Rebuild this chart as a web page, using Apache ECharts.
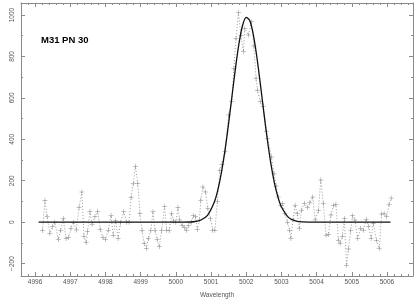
<!DOCTYPE html>
<html><head><meta charset="utf-8">
<script src="https://cdn.jsdelivr.net/npm/echarts@6/dist/echarts.min.js"></script>
<style>html,body{margin:0;padding:0;background:#fff}#c{width:415px;height:300px}</style>
</head><body><div id="c"></div>
<script>
// Observed spectrum (wavelength, flux)
const obsWave = [4996.21,4996.28,4996.34,4996.42,4996.49,4996.56,4996.66,4996.73,4996.80,4996.88,4996.95,4997.02,4997.09,4997.17,4997.25,4997.33,4997.39,4997.45,4997.49,4997.56,4997.62,4997.70,4997.78,4997.85,4997.93,4998.00,4998.08,4998.16,4998.22,4998.29,4998.36,4998.43,4998.52,4998.60,4998.67,4998.73,4998.79,4998.85,4998.92,4998.98,4999.04,4999.10,4999.16,4999.22,4999.29,4999.35,4999.41,4999.47,4999.53,4999.60,4999.68,4999.74,4999.81,4999.88,4999.94,5000.00,5000.06,5000.11,5000.18,5000.25,5000.30,5000.36,5000.44,5000.50,5000.56,5000.61,5000.67,5000.71,5000.77,5000.84,5000.91,5000.98,5001.05,5001.11,5001.18,5001.25,5001.31,5001.40,5001.50,5001.59,5001.65,5001.71,5001.78,5001.85,5001.92,5001.96,5002.06,5002.15,5002.22,5002.28,5002.32,5002.40,5002.48,5002.57,5002.61,5002.72,5002.79,5002.85,5002.91,5002.98,5003.04,5003.10,5003.17,5003.23,5003.27,5003.33,5003.39,5003.45,5003.51,5003.57,5003.65,5003.74,5003.81,5003.89,5003.96,5004.05,5004.12,5004.19,5004.27,5004.34,5004.41,5004.48,5004.55,5004.62,5004.67,5004.73,5004.79,5004.85,5004.91,5004.97,5005.02,5005.09,5005.17,5005.25,5005.33,5005.41,5005.48,5005.55,5005.61,5005.70,5005.78,5005.85,5005.92,5005.99,5006.06,5006.12];
const obsFlux = [-40,106,29,-55,-22,0,-84,-40,18,-79,-74,-30,0,-38,71,146,-68,-100,-45,53,-10,26,53,-35,-74,-84,-39,32,-63,8,-79,-3,50,0,0,120,187,270,187,40,-40,-103,-127,-79,-40,50,-40,-84,-119,-40,77,-39,-42,42,6,0,71,10,-16,-26,-39,-16,0,32,26,-35,10,106,170,146,66,18,-39,-39,100,251,280,340,517,581,740,887,1013,900,823,936,903,967,850,694,637,581,560,436,404,315,235,174,122,82,90,42,0,-39,-79,10,82,40,-31,58,90,71,95,122,10,55,203,90,-63,-60,34,82,87,-87,-103,-68,18,-208,-130,-40,31,10,-79,-30,-39,14,-20,-79,-6,-87,-127,39,40,26,87,117];
// Fitted Gaussian profile
const fitWave = [4996.1,5000.0,5000.5,5000.7,5000.9,5001.1,5001.2,5001.3,5001.4,5001.5,5001.6,5001.7,5001.8,5001.9,5002.0,5002.1,5002.2,5002.3,5002.4,5002.5,5002.6,5002.7,5002.8,5002.9,5003.0,5003.2,5003.4,5003.6,5004.0,5006.1];
const fitFlux = [0,0,2,9,33,100,160,244,350,477,614,750,868,952,989,973,907,801,670,531,399,284,191,122,74,23,6,1,0,0];
// Axis ticks
const xMajor = [4996,4997,4998,4999,5000,5001,5002,5003,5004,5005,5006];
const xMinor = [4995.8,4996.2,4996.4,4996.6,4996.8,4997.2,4997.4,4997.6,4997.8,4998.2,4998.4,4998.6,4998.8,4999.2,4999.4,4999.6,4999.8,5000.2,5000.4,5000.6,5000.8,5001.2,5001.4,5001.6,5001.8,5002.2,5002.4,5002.6,5002.8,5003.2,5003.4,5003.6,5003.8,5004.2,5004.4,5004.6,5004.8,5005.2,5005.4,5005.6,5005.8,5006.2,5006.4,5006.6];
const yMajor = [-200,0,200,400,600,800,1000];
const yMinor = [-100,100,300,500,700,900];
const titleText = 'M31 PN 30';
const xName = 'Wavelength';
const yName = 'Flux';

const XMIN = 4995.6, XMAX = 5006.74, YMIN = -260, YMAX = 1058;
const axisCol = '#8a8a8a';
const font = 'Liberation Sans, Arial, sans-serif';

function xAx(pos, ticks, len, labels, line) {
  return {
    type: 'value', position: pos, min: XMIN, max: XMAX,
    splitLine: {show: false},
    axisLine: {show: line, onZero: false, lineStyle: {color: axisCol, width: 1}},
    axisTick: {show: true, inside: true, length: len, customValues: ticks, lineStyle: {color: axisCol, width: 1}},
    axisLabel: labels ? {show: true, customValues: ticks, fontSize: 6.5, color: '#555', margin: 3, fontFamily: font, formatter: v => String(v)} : {show: false},
    name: labels ? xName : '', nameLocation: 'middle', nameGap: 16,
    nameTextStyle: {fontSize: 6.5, color: '#555', fontFamily: font}
  };
}
function yAx(pos, ticks, len, labels, line) {
  return {
    type: 'value', position: pos, min: YMIN, max: YMAX,
    splitLine: {show: false},
    axisLine: {show: line, onZero: false, lineStyle: {color: axisCol, width: 1}},
    axisTick: {show: true, inside: true, length: len, customValues: ticks, lineStyle: {color: axisCol, width: 1}},
    axisLabel: labels ? {show: true, customValues: ticks, fontSize: 6.5, color: '#555', margin: 5, rotate: 90, fontFamily: font, formatter: v => String(v).replace('-', '\u2212')} : {show: false},
    name: labels ? yName : '', nameLocation: 'middle', nameGap: 15, nameRotate: 90,
    nameTextStyle: {fontSize: 6.5, color: '#555', fontFamily: font}
  };
}

const chart = echarts.init(document.getElementById('c'), null, {renderer: 'canvas'});
chart.setOption({
  animation: false,
  backgroundColor: '#fff',
  title: {text: titleText, left: 41, top: 35, padding: 0, textStyle: {fontSize: 9.5, fontWeight: 'bold', color: '#000', fontFamily: font}},
  grid: {left: 21, right: 2, top: 3, bottom: 24, containLabel: false, outerBoundsMode: 'none'},
  xAxis: [
    xAx('bottom', xMajor, 4, true, true),
    xAx('bottom', xMinor, 2, false, false),
    xAx('top', xMajor, 4, false, true),
    xAx('top', xMinor, 2, false, false)
  ],
  yAxis: [
    yAx('left', yMajor, 4, true, true),
    yAx('left', yMinor, 2, false, false),
    yAx('right', yMajor, 4, false, true),
    yAx('right', yMinor, 2, false, false)
  ],
  series: [
    {
      type: 'line', xAxisIndex: 0, yAxisIndex: 0,
      data: obsWave.map((w, i) => [w, obsFlux[i]]),
      lineStyle: {color: '#9a9a9a', width: 1, type: [1, 2]},
      symbol: 'path://M0,4.5H10V5.5H0ZM4.5,0H5.5V10H4.5Z', symbolSize: 5,
      itemStyle: {color: '#8a8a8a'},
      z: 2
    },
    {
      type: 'line', xAxisIndex: 0, yAxisIndex: 0, smooth: 0.3,
      data: fitWave.map((w, i) => [w, fitFlux[i]]),
      lineStyle: {color: '#111', width: 1.3},
      showSymbol: false, symbol: 'none',
      z: 3
    }
  ]
});
</script></body></html>
